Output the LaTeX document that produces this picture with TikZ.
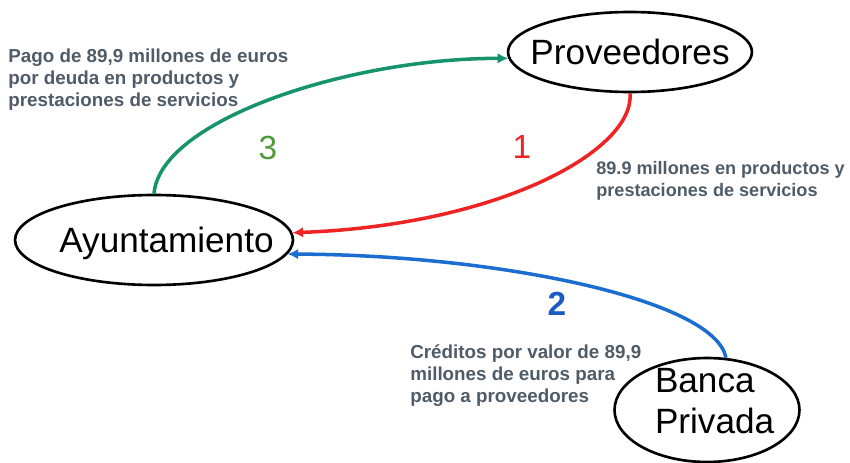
\documentclass[tikz,border=0pt]{standalone}
\usepackage{fontspec}
\setmainfont{Liberation Sans}
\usetikzlibrary{shapes.geometric,arrows.meta}

\definecolor{greenflow}{HTML}{16936A}
\definecolor{redflow}{HTML}{EE2424}
\definecolor{blueflow}{HTML}{1C6DD0}
\definecolor{greennum}{HTML}{4E9A3C}
\definecolor{bluenum}{HTML}{1A5CC4}
\definecolor{notegray}{HTML}{4F5C68}

% text that does not widen the ellipse
\newcommand{\ctext}[2][0pt]{\makebox[0pt]{\smash{\raisebox{-7pt}{\hspace{#1}#2}}}}

\begin{document}
\begin{tikzpicture}[x=0.02cm, y=-0.02cm,
		entity/.style={ellipse, draw=black, line width=1.5pt, inner sep=0pt, font=\fontsize{20}{23}\selectfont},
		flow/.style={line width=2pt, -{Latex[length=6pt,width=6pt]}},
		note/.style={anchor=north west, align=left, inner sep=0pt, text=notegray, font=\fontsize{10.7}{12.5}\selectfont\bfseries},
		num/.style={inner sep=0pt, font=\fontsize{19}{21}\selectfont}]
		\useasboundingbox (0, 0) rectangle (850, 463);
		\node[entity, minimum width=5.56cm, minimum height=1.8cm] (ayun) at (154, 240) {\ctext[0.5cm]{Ayuntamiento}};
		\node[entity, minimum width=4.88cm, minimum height=1.6cm] (prov) at (630, 52) {\ctext{Proveedores}};
		\node[entity, minimum width=3.7cm, minimum height=2.08cm] (banca) at (707, 410)
			{\makebox[0pt][l]{\hspace{-1.04cm}\smash{\raisebox{9.7pt}{\begin{tabular}[t]{@{}l@{}}Banca\\Privada\end{tabular}}}}};
		\draw[flow, greenflow] (ayun.north) .. controls (160, 120) and (350, 58) .. (prov.183);
		\draw[flow, redflow] (prov.south) .. controls (635, 150) and (500, 225) .. (ayun.3);
		\draw[flow, blueflow] (banca.70) .. controls (715, 300) and (500, 255) .. (ayun.-6);
		\node[num, text=greennum] (n3) at (268, 148) {3};
		\node[num, text=redflow] (n1) at (522, 147) {1};
		\node[num, text=bluenum, font=\fontsize{19}{21}\selectfont\bfseries] (n2) at (557, 304) {2};
		\node[note] (notegreen) at (8, 49) {Pago de 89,9 millones de euros\\por deuda en productos y\\prestaciones de servicios};
		\node[note, font=\fontsize{10.3}{12.5}\selectfont\bfseries] (notered) at (596, 161) {89.9 millones en productos y\\prestaciones de servicios};
		\node[note] (noteblue) at (410, 344) {Créditos por valor de 89,9\\millones de euros para\\pago a proveedores};
	\end{tikzpicture}
\end{document}
